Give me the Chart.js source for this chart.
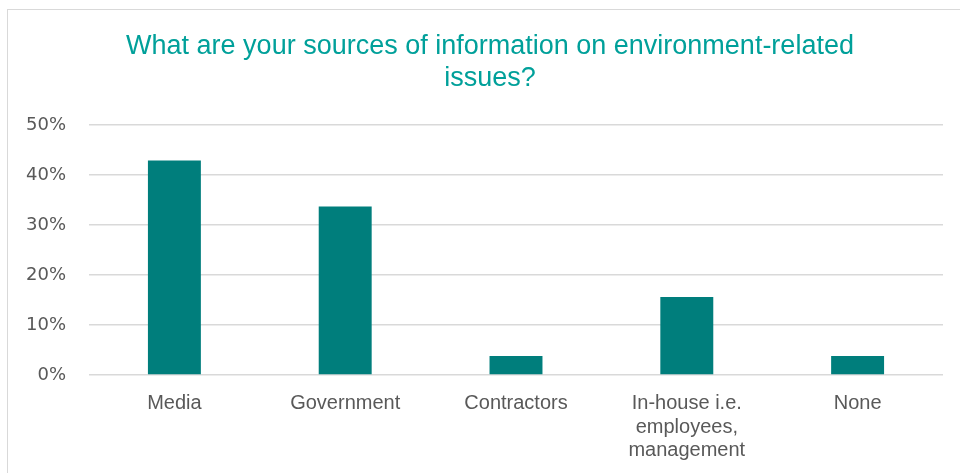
<!DOCTYPE html>
<html>
<head>
<meta charset="utf-8">
<script src="https://cdn.jsdelivr.net/npm/chart.js@4"></script>
<style>
    html, body { margin: 0; padding: 0; background: #fff; overflow: hidden; }
    #frame { position: absolute; left: 7px; top: 9px; width: 1000px; height: 600px; border: 1.5px solid #d9d9d9; }
    #wrap { position: absolute; left: 0; top: 0; width: 960px; height: 473px; }
</style>
</head>
<body>
<div id="frame"></div>
<div id="wrap"><canvas id="srcChart" width="960" height="473"></canvas></div>
<script>
// chart data
const categories = ['Media', 'Government', 'Contractors', ['In-house i.e.', 'employees,', 'management'], 'None'];
const shares = [42.9, 33.7, 3.8, 15.6, 3.8];
const yTicks = [0, 10, 20, 30, 40, 50];

const Colors = {
    bar: '#007e7c',
    title: '#00a09a',
    text: '#595959',
    grid: '#d9d9d9'
};

const ctx = document.getElementById('srcChart').getContext('2d');
const srcChart = new Chart(ctx, {
    type: 'bar',
    data: {
        labels: categories,
        datasets: [{
            label: 'Share',
            data: shares,
            backgroundColor: Colors.bar,
            borderWidth: 0,
            barPercentage: 0.31,
            categoryPercentage: 1
        }]
    },
    options: {
        responsive: false,
        animation: false,
        devicePixelRatio: 1,
        // title box runs 20..960 so it centres at 490 like the original
        layout: { padding: { left: 20, right: 0, top: 0, bottom: 0 } },
        plugins: {
            legend: { display: false },
            tooltip: { enabled: false },
            title: {
                display: true,
                text: ['What are your sources of information on environment-related', 'issues?'],
                color: Colors.title,
                font: { family: '"Liberation Sans", Arial, sans-serif', size: 27, weight: 'normal', lineHeight: 1.185 },
                padding: { top: 31, bottom: 30 }
            }
        },
        scales: {
            x: {
                grid: { display: false, drawTicks: false },
                border: { display: false },
                ticks: {
                    color: Colors.text,
                    font: { family: '"Liberation Sans", Arial, sans-serif', size: 20, lineHeight: 1.17 },
                    padding: 17,
                    maxRotation: 0,
                    autoSkip: false
                },
                afterFit(scale) { scale.height = 98; }
            },
            y: {
                min: 0,
                max: 50,
                afterBuildTicks(scale) { scale.ticks = yTicks.map(v => ({ value: v })); },
                grid: { color: Colors.grid, lineWidth: 1.5, drawTicks: false },
                border: { display: false },
                ticks: {
                    color: Colors.text,
                    font: { family: '"DejaVu Sans", sans-serif', size: 18 },
                    padding: 23,
                    callback: v => v + '%'
                },
                afterFit(scale) { scale.width = 69; }
            },
            // empty spacer on the right so the plot ends at x=943
            spacer: {
                type: 'linear',
                position: 'right',
                display: true,
                grid: { display: false, drawTicks: false },
                border: { display: false },
                ticks: { display: false },
                afterFit(scale) { scale.width = 17; }
            }
        }
    }
});
</script>
</body>
</html>
